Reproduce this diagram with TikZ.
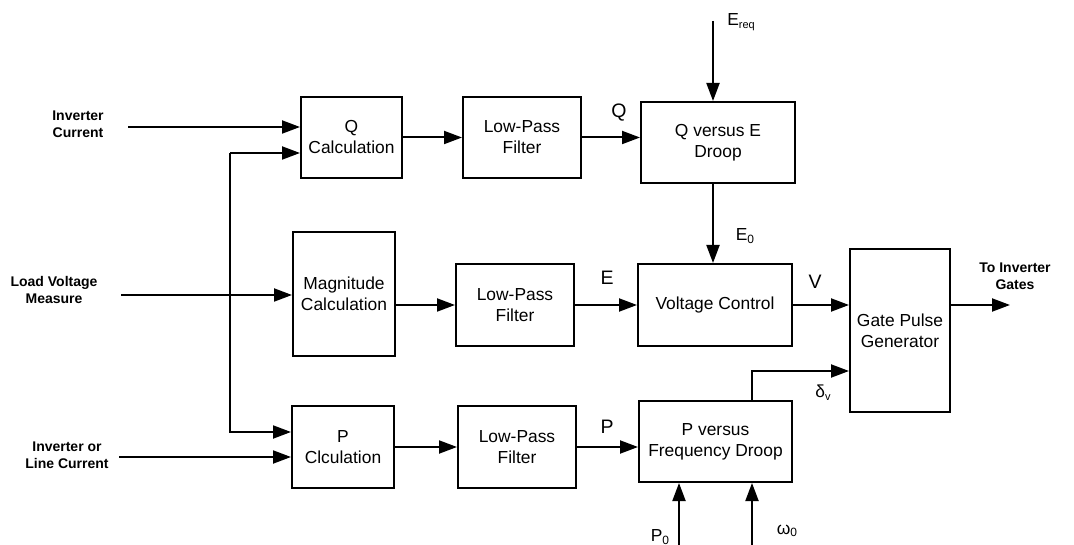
\documentclass[tikz,border=0pt]{standalone}
\usepackage{fontspec}
\setmainfont{Liberation Sans}
\usetikzlibrary{positioning,arrows.meta}

\begin{document}
\begin{tikzpicture}[x=1pt,y=-1pt,
	>={Triangle[length=18pt,width=13pt]},
	line width=2pt,
	block/.style={
		% The shape:
		rectangle,
		draw=black,
		inner sep=2pt,
		align=center,
		% Font
		font=\fontsize{17.4}{21}\selectfont
		},
	signal/.style={align=center, font=\fontsize{17.4}{21}\selectfont},
	bigsignal/.style={signal, font=\fontsize{19.5}{21}\selectfont},
	inputlabel/.style={align=center, font=\bfseries\fontsize{14}{16.7}\selectfont}]

	\useasboundingbox (0,0) rectangle (1074,545);

	% blocks
	\node (qcalc) [block,minimum width=101pt,minimum height=81pt] at (351.5,137.5) {Q\\Calculation};
	\node (qfilter) [block,minimum width=118pt,minimum height=81pt,right=59pt of qcalc] {Low-Pass\\Filter};
	\node (qdroop) [block,minimum width=154pt,minimum height=81pt] at (718,142.5) {Q versus E\\Droop};
	\node (magcalc) [block,minimum width=102pt,minimum height=124pt] at (344,294) {Magnitude\\Calculation};
	\node (efilter) [block,minimum width=118pt,minimum height=82pt] at (515,305) {Low-Pass\\Filter};
	\node (vcontrol) [block,minimum width=154pt,minimum height=82pt,right=62pt of efilter] {Voltage Control};
	\node (gate) [block,minimum width=100pt,minimum height=163pt] at (900,330.5) {Gate Pulse\\Generator};
	\node (pcalc) [block,minimum width=102pt,minimum height=82pt] at (343,447) {P\\Clculation};
	\node (pfilter) [block,minimum width=118pt,minimum height=82pt,right=62pt of pcalc] {Low-Pass\\Filter};
	\node (pdroop) [block,minimum width=153pt,minimum height=81pt] at (715.5,441.5) {P versus\\Frequency Droop};

	% free ends
	\coordinate (invcur) at (128,127);
	\coordinate (loadv) at (121,295);
	\coordinate (linecur) at (119,457);
	\coordinate (tap) at (230,153);
	\coordinate (ereq) at (713,21);
	\coordinate (out) at (1010,305);
	\coordinate (pzero) at (679,545);
	\coordinate (wzero) at (752,545);

	% input labels
	\node (invcurtext) [inputlabel] at (78,124) {Inverter\\Current};
	\node (loadvtext) [inputlabel] at (54,290) {Load Voltage\\Measure};
	\node (linecurtext) [inputlabel] at (67,455) {Inverter or\\Line Current};
	\node (outtext) [inputlabel] at (1015,276) {To Inverter\\Gates};

	% connectors
	\draw[->] (invcur) -- (invcur -| qcalc.west);
	\draw[->] (tap) -- (tap -| qcalc.west);
	\draw[->] (tap) |- ([yshift=15pt]pcalc.west);
	\draw[->] (linecur) -- (linecur -| pcalc.west);
	\draw[->] (loadv) -- (loadv -| magcalc.west);
	\draw[->] (qcalc) -- (qfilter);
	\draw[->] (qfilter.east) -- (qfilter.east -| qdroop.west);
	\draw[->] (magcalc.east |- efilter.west) -- (efilter.west);
	\draw[->] (efilter) -- (vcontrol);
	\draw[->] (pcalc) -- (pfilter);
	\draw[->] (pfilter.east) -- (pfilter.east -| pdroop.west);
	\draw[->] (ereq) -- (ereq |- qdroop.north);
	\draw[->] (qdroop.south -| ereq) -- (vcontrol.north -| ereq);
	\draw[->] (vcontrol.east) -- (vcontrol.east -| gate.west);
	\draw[->] (gate.east |- out) -- (out);
	\draw[->] (pdroop.north -| wzero) |- ([yshift=-40.5pt]gate.west);
	\draw[->] (pzero) -- (pzero |- pdroop.south);
	\draw[->] (wzero) -- (wzero |- pdroop.south);

	% signal labels
	\node (ereqtext) [signal] at (741,22) {E\raisebox{-0.3ex}{\fontsize{11}{11}\selectfont req}};
	\node (qtext) [bigsignal] at (619,113) {Q};
	\node (ezerotext) [signal] at (745,236) {E\raisebox{-0.3ex}{\fontsize{12}{12}\selectfont 0}};
	\node (etext) [bigsignal] at (607,278) {E};
	\node (vtext) [bigsignal] at (815,282) {V};
	\node (ptext) [bigsignal] at (607,427) {P};
	\node (deltatext) [signal] at (823,393) {δ\raisebox{-0.3ex}{\fontsize{11}{11}\selectfont v}};
	\node (pzerotext) [signal] at (660,537) {P\raisebox{-0.3ex}{\fontsize{12}{12}\selectfont 0}};
	\node (wzerotext) [signal] at (787,531) {ω\raisebox{-0.2ex}{\fontsize{12}{12}\selectfont 0}};

\end{tikzpicture}
\end{document}
